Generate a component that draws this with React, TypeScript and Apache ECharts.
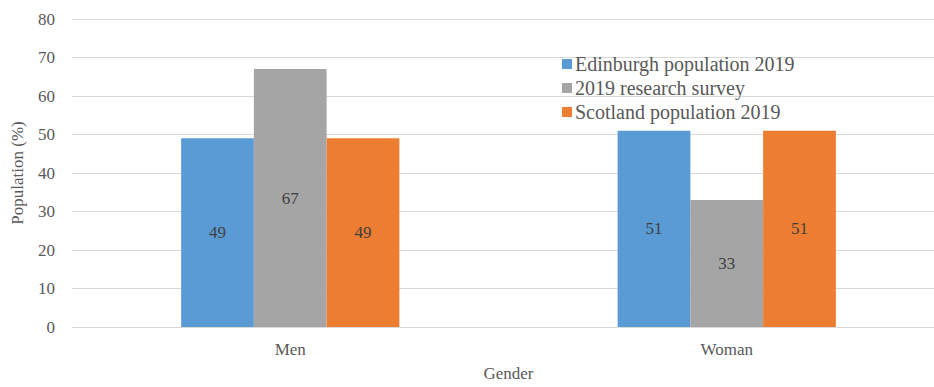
import React, { useEffect, useRef } from "react";
import * as echarts from "echarts";

const categories = ["Men", "Woman"];
const edinburgh2019 = [49, 51];
const researchSurvey2019 = [67, 33];
const scotland2019 = [49, 51];
const seriesNames = ["Edinburgh population 2019", "2019 research survey", "Scotland population 2019"];
const yTicks = { min: 0, max: 80, interval: 10 };

const FONT = "Liberation Serif";

export default function App() {
  const ref = useRef<HTMLDivElement>(null);

  useEffect(() => {
    if (!ref.current) return;
    const chart = echarts.init(ref.current, null, { renderer: "svg", width: 945, height: 387 });
    const label = {
      show: true,
      position: "inside",
      color: "#404040",
      fontFamily: FONT,
      fontSize: 17,
    };
    chart.setOption({
      animation: false,
      textStyle: { fontFamily: FONT },
      grid: { left: 72, right: 0, top: 19, bottom: 54, containLabel: false },
      legend: {
        orient: "vertical",
        left: 557,
        top: 49,
        itemWidth: 10,
        itemHeight: 10,
        itemGap: 4,
        icon: "rect",
        textStyle: { color: "#595959", fontFamily: FONT, fontSize: 20, padding: [0, 0, 0, -2] },
        data: seriesNames,
      },
      xAxis: {
        type: "category",
        data: categories,
        name: "Gender",
        nameLocation: "middle",
        nameGap: 38,
        nameTextStyle: { color: "#595959", fontFamily: FONT, fontSize: 17 },
        axisLine: { lineStyle: { color: "#d9d9d9", width: 1 } },
        axisTick: { show: false },
        axisLabel: { color: "#595959", fontFamily: FONT, fontSize: 17, margin: 14 },
      },
      yAxis: {
        type: "value",
        min: yTicks.min,
        max: yTicks.max,
        interval: yTicks.interval,
        name: "Population (%)",
        nameLocation: "middle",
        nameGap: 46,
        nameTextStyle: { color: "#595959", fontFamily: FONT, fontSize: 17 },
        axisLine: { show: false },
        axisTick: { show: false },
        axisLabel: { color: "#595959", fontFamily: FONT, fontSize: 17, margin: 17 },
        splitLine: { lineStyle: { color: "#d9d9d9", width: 1 } },
      },
      series: [
        {
          name: seriesNames[0],
          type: "bar",
          data: edinburgh2019,
          itemStyle: { color: "#5B9BD5" },
          barGap: "0%",
          barCategoryGap: "50%",
          label,
        },
        {
          name: seriesNames[1],
          type: "bar",
          data: researchSurvey2019,
          itemStyle: { color: "#A5A5A5" },
          barGap: "0%",
          barCategoryGap: "50%",
          label,
        },
        {
          name: seriesNames[2],
          type: "bar",
          data: scotland2019,
          itemStyle: { color: "#ED7D31" },
          barGap: "0%",
          barCategoryGap: "50%",
          label,
        },
      ],
    });
    return () => chart.dispose();
  }, []);

  // The plot runs a little past the right edge, so the chart is wider than its clipping frame.
  return (
    <div
      style={{ position: "fixed", left: 0, top: 0, width: 934, height: 387, overflow: "hidden", background: "#fff" }}
    >
      <div ref={ref} style={{ width: 945, height: 387 }} />
    </div>
  );
}
